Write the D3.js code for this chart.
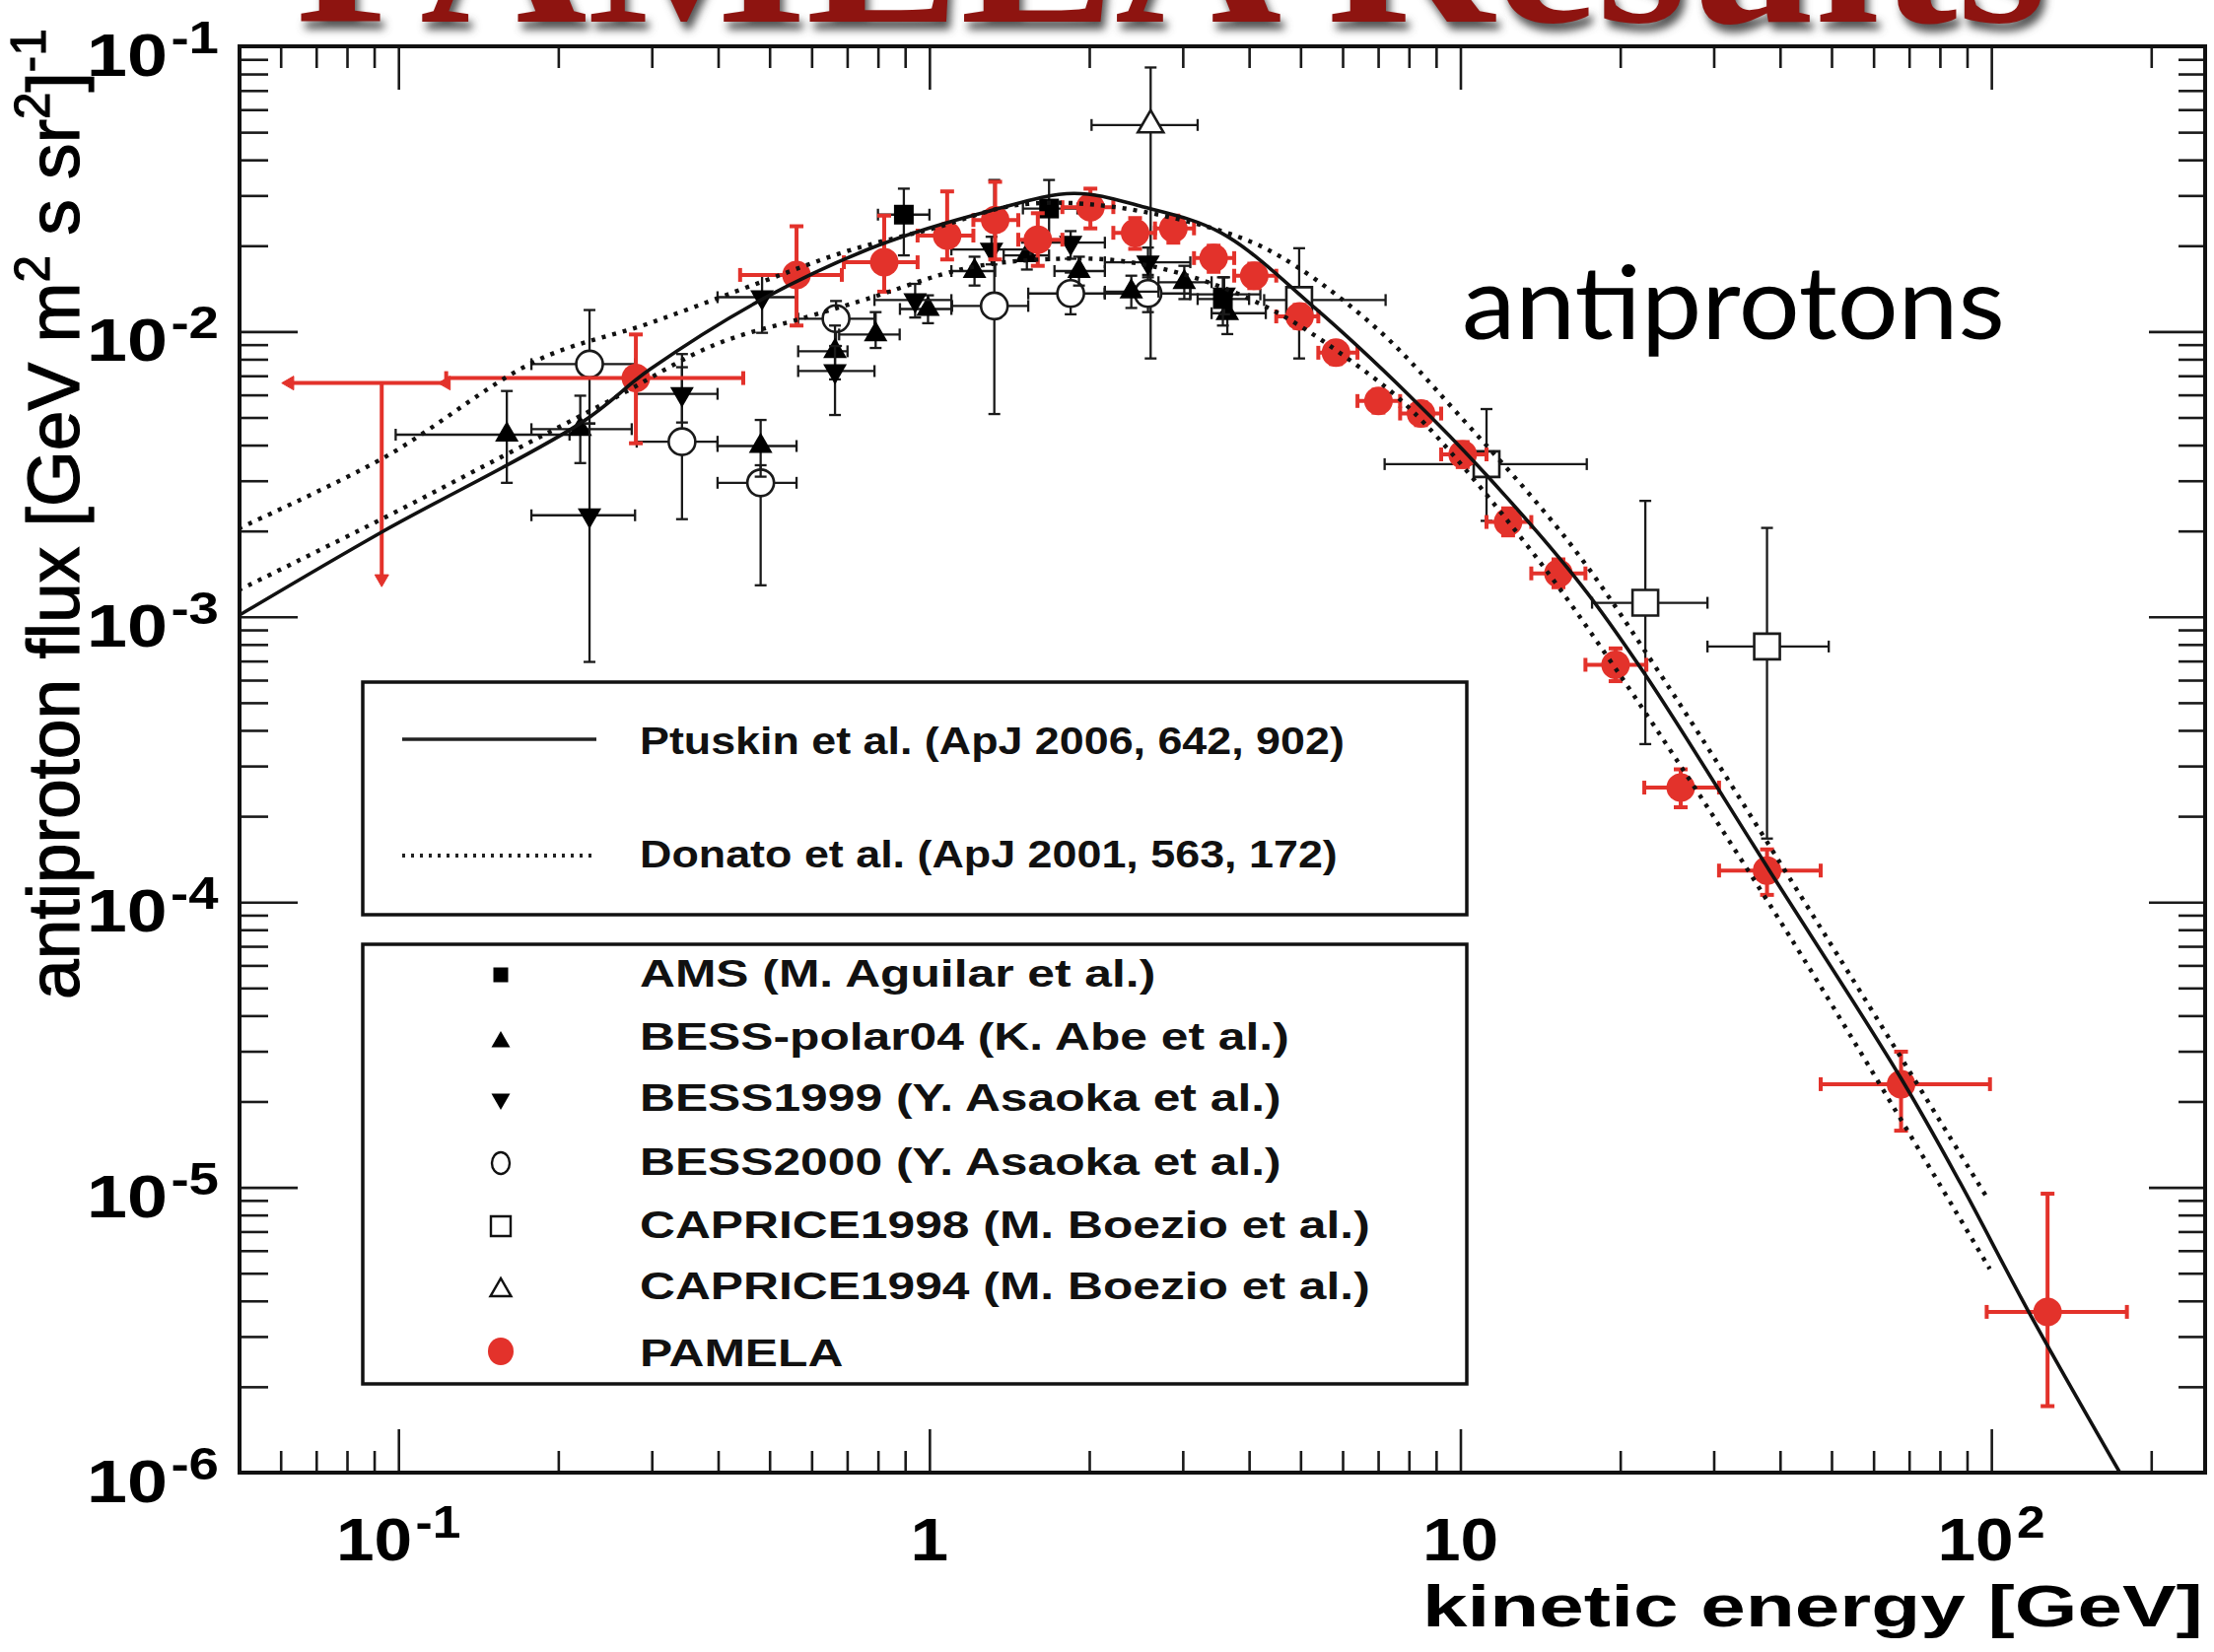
<!DOCTYPE html>
<html>
<head>
<meta charset="utf-8">
<script src="https://cdn.jsdelivr.net/npm/d3@7/dist/d3.min.js"></script>
<style>
body { margin: 0; background: #fff; }
</style>
</head>
<body>
<div id="svganchor"></div>
<script>
const width = 2246;
const height = 1676;
const plot = ({left: 243, right: 2237, top: 47, bottom: 1494});

// axis ranges and major ticks
const xDomain = [0.0502, 252.7];
const yDomain = [1e-6, 1e-1];
const xMajor = [0.1, 1, 10, 100];
const xMajorLabels = [["10", "-1"], ["1", ""], ["10", ""], ["10", "2"]];
const yMajor = [1e-1, 1e-2, 1e-3, 1e-4, 1e-5, 1e-6];
const yMajorLabels = [["10", "-1"], ["10", "-2"], ["10", "-3"], ["10", "-4"], ["10", "-5"], ["10", "-6"]];

// model curves: [kinetic energy GeV, flux]
const ptuskin = [
    [0.0500, 1.01e-3], [0.0929, 1.98e-3], [0.222, 4.82e-3], [0.297, 7.35e-3], [0.485, 1.30e-2],
    [0.798, 2.00e-2], [1.30, 2.65e-2], [1.87, 3.05e-2], [2.52, 2.74e-2], [3.54, 2.22e-2],
    [5.32, 1.21e-2], [8.02, 5.96e-3], [11.2, 3.14e-3], [16.9, 1.29e-3], [22.2, 6.34e-4],
    [38.2, 1.29e-4], [67.5, 2.42e-5], [87.3, 1.04e-5], [117.5, 3.67e-6], [174.6, 1.00e-6]
];
const donatoHigh = [
    [0.0500, 2.04e-3], [0.0940, 3.62e-3], [0.182, 7.91e-3], [0.297, 1.07e-2], [0.486, 1.50e-2],
    [0.703, 1.92e-2], [1.016, 2.30e-2], [1.47, 2.78e-2], [2.21, 2.74e-2], [3.79, 2.16e-2],
    [4.89, 1.70e-2], [7.06, 1.00e-2], [9.77, 5.28e-3], [16.0, 1.83e-3], [23.3, 6.68e-4],
    [48.8, 7.59e-5], [98.9, 8.99e-6]
];
const donatoLow = [
    [0.0500, 1.24e-3], [0.0929, 2.20e-3], [0.157, 3.65e-3], [0.249, 5.71e-3], [0.394, 8.99e-3],
    [0.593, 1.13e-2], [0.762, 1.30e-2], [1.16, 1.66e-2], [1.63, 1.79e-2], [2.29, 1.77e-2],
    [3.21, 1.53e-2], [4.50, 1.17e-2], [6.30, 7.76e-3], [8.11, 5.28e-3], [13.2, 1.83e-3],
    [19.5, 6.68e-4], [41.7, 7.59e-5], [99.3, 5.18e-6]
];

// data rows: [E, flux, flux low, flux high, E low, E high]
const ams = [
    [0.895, 2.57e-2, 1.85e-2, 3.17e-2, 0.80, 1.00],
    [1.68, 2.70e-2, 2.10e-2, 3.40e-2, 1.50, 1.90],
    [3.57, 1.30e-2, 1.05e-2, 1.55e-2, 3.20, 4.00]
];
const bessPolar04 = [
    [0.160, 4.35e-3, 2.95e-3, 6.19e-3, 0.0988, 0.210],
    [0.220, 4.55e-3, 3.46e-3, 5.96e-3, 0.178, 0.275],
    [0.481, 3.97e-3, 3.10e-3, 4.90e-3, 0.399, 0.562],
    [0.664, 8.53e-3, 6.80e-3, 1.05e-2, 0.566, 0.701],
    [0.792, 9.77e-3, 8.76e-3, 1.17e-2, 0.676, 0.879],
    [0.994, 1.20e-2, 1.07e-2, 1.34e-2, 0.880, 1.10],
    [1.216, 1.63e-2, 1.45e-2, 1.83e-2, 1.10, 1.33],
    [1.526, 1.85e-2, 1.65e-2, 2.05e-2, 1.38, 1.68],
    [1.913, 1.63e-2, 1.45e-2, 1.83e-2, 1.72, 2.14],
    [2.40, 1.38e-2, 1.21e-2, 1.57e-2, 2.14, 2.70],
    [3.02, 1.49e-2, 1.30e-2, 1.70e-2, 2.70, 3.40],
    [3.64, 1.16e-2, 9.80e-3, 1.34e-2, 3.40, 4.30]
];
const bess1999 = [
    [0.229, 2.27e-3, 6.95e-4, 4.76e-3, 0.178, 0.279],
    [0.342, 6.05e-3, 4.80e-3, 7.50e-3, 0.281, 0.399],
    [0.484, 1.32e-2, 9.90e-3, 1.57e-2, 0.399, 0.562],
    [0.664, 7.27e-3, 5.10e-3, 8.90e-3, 0.566, 0.788],
    [0.940, 1.29e-2, 1.12e-2, 1.47e-2, 0.788, 1.10],
    [1.309, 1.94e-2, 1.72e-2, 2.15e-2, 1.10, 1.55],
    [1.845, 2.05e-2, 1.80e-2, 2.25e-2, 1.55, 2.14],
    [2.58, 1.75e-2, 1.55e-2, 1.97e-2, 2.14, 3.10],
    [3.59, 1.35e-2, 1.15e-2, 1.55e-2, 3.10, 4.20]
];
const bess2000 = [
    [0.229, 7.69e-3, 4.76e-3, 1.19e-2, 0.178, 0.279],
    [0.342, 4.11e-3, 2.20e-3, 8.34e-3, 0.281, 0.399],
    [0.481, 2.95e-3, 1.29e-3, 3.40e-3, 0.399, 0.562],
    [0.667, 1.11e-2, 8.90e-3, 1.28e-2, 0.566, 0.788],
    [1.325, 1.23e-2, 5.14e-3, 3.40e-2, 1.103, 1.535],
    [1.845, 1.36e-2, 1.15e-2, 1.61e-2, 1.535, 2.14],
    [2.58, 1.36e-2, 1.17e-2, 1.58e-2, 2.14, 3.10]
];
const caprice1998 = [
    [4.97, 1.29e-2, 8.05e-3, 1.96e-2, 4.27, 7.23],
    [11.2, 3.43e-3, 2.17e-3, 5.35e-3, 7.20, 17.3],
    [22.3, 1.12e-3, 3.58e-4, 2.55e-3, 17.7, 29.2],
    [37.8, 7.87e-4, 1.67e-4, 2.05e-3, 29.2, 49.4]
];
const caprice1994 = [
    [2.61, 5.30e-2, 8.05e-3, 8.43e-2, 2.02, 3.20]
];
const pamela = [
    [0.28, 6.87e-3, 4.06e-3, 9.77e-3, 0.123, 0.446],
    [0.562, 1.58e-2, 1.05e-2, 2.34e-2, 0.44, 0.684],
    [0.822, 1.75e-2, 1.38e-2, 2.55e-2, 0.69, 0.95],
    [1.08, 2.17e-2, 1.79e-2, 3.10e-2, 0.95, 1.21],
    [1.33, 2.46e-2, 1.79e-2, 3.35e-2, 1.21, 1.47],
    [1.60, 2.10e-2, 1.70e-2, 2.60e-2, 1.47, 1.78],
    [2.01, 2.73e-2, 2.30e-2, 3.17e-2, 1.78, 2.22],
    [2.44, 2.22e-2, 1.95e-2, 2.50e-2, 2.22, 2.66],
    [2.88, 2.30e-2, 2.05e-2, 2.55e-2, 2.66, 3.15],
    [3.43, 1.81e-2, 1.62e-2, 2.00e-2, 3.15, 3.75],
    [4.09, 1.57e-2, 1.42e-2, 1.73e-2, 3.75, 4.50],
    [4.98, 1.13e-2, 1.03e-2, 1.24e-2, 4.50, 5.40],
    [5.83, 8.43e-3, 7.70e-3, 9.20e-3, 5.40, 6.40],
    [7.01, 5.71e-3, 5.20e-3, 6.25e-3, 6.40, 7.70],
    [8.43, 5.16e-3, 4.70e-3, 5.65e-3, 7.70, 9.20],
    [10.1, 3.71e-3, 3.35e-3, 4.10e-3, 9.20, 11.2],
    [12.3, 2.15e-3, 1.93e-3, 2.40e-3, 11.2, 13.6],
    [15.3, 1.42e-3, 1.27e-3, 1.59e-3, 13.6, 17.2],
    [19.6, 6.79e-4, 5.95e-4, 7.75e-4, 17.2, 22.4],
    [26.0, 2.52e-4, 2.15e-4, 2.92e-4, 22.2, 30.7],
    [37.8, 1.29e-4, 1.06e-4, 1.53e-4, 30.7, 47.7],
    [67.6, 2.30e-5, 1.58e-5, 2.99e-5, 47.7, 99.4],
    [127.6, 3.66e-6, 1.71e-6, 9.50e-6, 98.0, 180.0]
];
// upper limit: [E, flux, arrow end, E low, E high]
const pamelaLimit = [0.093, 6.6e-3, 1.36e-3, 0.0624, 0.123];

const lineLegend = ["Ptuskin et al. (ApJ 2006, 642, 902)", "Donato et al. (ApJ 2001, 563, 172)"];
const markerLegend = [
    ["square", "AMS (M. Aguilar et al.)"],
    ["up", "BESS-polar04 (K. Abe et al.)"],
    ["down", "BESS1999 (Y. Asaoka et al.)"],
    ["circle", "BESS2000 (Y. Asaoka et al.)"],
    ["osquare", "CAPRICE1998 (M. Boezio et al.)"],
    ["oup", "CAPRICE1994 (M. Boezio et al.)"],
    ["red", "PAMELA"]
];

const red = "#e3322b";
const font = "'Liberation Sans', Arial, Helvetica, sans-serif";

let svg = d3.select("#svganchor")
    .append("svg")
    .attr("width", width)
    .attr("height", height)
    .style("font-family", font)
    .style("background", "#fff");

let xScale = d3.scaleLog().domain(xDomain).range([plot.left, plot.right]);
let yScale = d3.scaleLog().domain(yDomain).range([plot.bottom, plot.top]);

const defs = svg.append("defs");
defs.append("clipPath").attr("id", "plotclip")
    .append("rect")
    .attr("x", plot.left).attr("y", plot.top)
    .attr("width", plot.right - plot.left).attr("height", plot.bottom - plot.top);
const shadow = defs.append("filter").attr("id", "shadow").attr("x", "-5%").attr("y", "-50%").attr("width", "110%").attr("height", "200%");
shadow.append("feGaussianBlur").attr("stdDeviation", 4);

// stretch a group horizontally to a target width
function fitX(inner, target, anchor) {
    const b = inner.node().getBBox();
    const k = target ? target / b.width : 1;
    let dx = -b.x;
    if (anchor === "end") dx = -(b.x + b.width);
    if (anchor === "middle") dx = -(b.x + b.width / 2);
    inner.attr("transform", `scale(${k},1) translate(${dx},0)`);
    return k;
}

// ---- title (cut off at top of slide)
let titleG = svg.append("g").attr("transform", "translate(300,22)");
let titleShadow = titleG.append("g").attr("transform", "translate(4,8)");
titleShadow.append("text")
    .attr("font-family", "'Liberation Serif', 'DejaVu Serif', serif")
    .attr("font-weight", "bold").attr("font-size", 220)
    .attr("fill", "#555").attr("filter", "url(#shadow)")
    .text("PAMELA Results");
let titleInner = titleG.append("g");
titleInner.append("text")
    .attr("font-family", "'Liberation Serif', 'DejaVu Serif', serif")
    .attr("font-weight", "bold").attr("font-size", 220)
    .attr("fill", "#8e1410")
    .text("PAMELA Results");
let tk = fitX(titleInner, 1777, "start");
titleShadow.select("text").attr("transform", `scale(${tk},1)`);

// ---- ticks
const xMinor = xScale.ticks().filter(v => !xMajor.some(m => Math.abs(m - v) / m < 1e-6));
const yMinor = yScale.ticks().filter(v => !yMajor.some(m => Math.abs(m - v) / m < 1e-6));

function tickAxis(axis, values, size, transform) {
    const g = svg.append("g")
        .attr("transform", transform)
        .call(axis.tickValues(values).tickSize(size).tickFormat(""));
    g.select(".domain").remove();
    g.selectAll("line").attr("stroke", "#1a1a1a").attr("stroke-width", 2.6);
}

tickAxis(d3.axisBottom(xScale), xMinor, -22, `translate(0,${plot.bottom})`);
tickAxis(d3.axisBottom(xScale), xMajor, -44, `translate(0,${plot.bottom})`);
tickAxis(d3.axisTop(xScale), xMinor, -22, `translate(0,${plot.top})`);
tickAxis(d3.axisTop(xScale), xMajor, -44, `translate(0,${plot.top})`);
tickAxis(d3.axisLeft(yScale), yMinor, -29, `translate(${plot.left},0)`);
tickAxis(d3.axisLeft(yScale), yMajor, -59, `translate(${plot.left},0)`);
tickAxis(d3.axisRight(yScale), yMinor, -27, `translate(${plot.right},0)`);
tickAxis(d3.axisRight(yScale), yMajor, -57, `translate(${plot.right},0)`);

// ---- tick labels "10^n"
function powerLabel(base, exp, x0, y0, target, anchor, k) {
    const outer = svg.append("g").attr("transform", `translate(${x0},${y0})`);
    const inner = outer.append("g");
    const t = inner.append("text")
        .attr("font-size", 62).attr("font-weight", "bold")
        .text(base);
    if (exp) {
        const w = t.node().getComputedTextLength();
        inner.append("text")
            .attr("x", w + 3).attr("y", -23)
            .attr("font-size", 46).attr("font-weight", "bold")
            .text(exp);
    }
    if (target) {
        fitX(inner, target, anchor);
    } else {
        const b = inner.node().getBBox();
        let dx = anchor === "middle" ? -(b.x + b.width / 2) : -(b.x + b.width);
        inner.attr("transform", `scale(${k},1) translate(${dx},0)`);
    }
}

yMajor.forEach((v, i) => powerLabel(yMajorLabels[i][0], yMajorLabels[i][1], 222, yScale(v) + 30, 134, "end"));
xMajor.forEach((v, i) => powerLabel(xMajorLabels[i][0], xMajorLabels[i][1], xScale(v), 1583, null, "middle", 1.12));

// ---- axis titles
let xTitle = svg.append("g").attr("transform", "translate(2235,1650)");
let xTitleInner = xTitle.append("g");
xTitleInner.append("text").attr("font-size", 60).attr("font-weight", "bold").text("kinetic energy [GeV]");
fitX(xTitleInner, 792, "end");

let yTitle = svg.append("g").attr("transform", "translate(80,1014) rotate(-90)");
let yTitleInner = yTitle.append("g");
let yt = yTitleInner.append("text").attr("font-size", 74)
    .attr("stroke", "#000").attr("stroke-width", 1.2);
yt.append("tspan").text("antiproton flux [GeV m");
yt.append("tspan").attr("font-size", 50).attr("dy", -30).text("2");
yt.append("tspan").attr("dy", 30).text(" s sr");
yt.append("tspan").attr("font-size", 50).attr("dy", -30).text("2");
yt.append("tspan").attr("dy", 30).text("]");
yt.append("tspan").attr("font-size", 50).attr("dy", -34).text("-1");
fitX(yTitleInner, 985, "start");

// ---- legend boxes
let legend1 = svg.append("g");
legend1.append("rect")
    .attr("x", 368).attr("y", 692).attr("width", 1120).attr("height", 236)
    .attr("fill", "#fff").attr("stroke", "#111").attr("stroke-width", 3.5);
let legend2 = svg.append("g");
legend2.append("rect")
    .attr("x", 368).attr("y", 958).attr("width", 1120).attr("height", 446)
    .attr("fill", "#fff").attr("stroke", "#111").attr("stroke-width", 3.5);

// ---- markers
const shapes = {
    square: s => `M${-s / 2},${-s / 2}h${s}v${s}h${-s}Z`,
    up: s => { const h = s * 0.866; return `M0,${-h * 2 / 3}L${s / 2},${h / 3}L${-s / 2},${h / 3}Z`; },
    down: s => { const h = s * 0.866; return `M0,${h * 2 / 3}L${s / 2},${-h / 3}L${-s / 2},${-h / 3}Z`; },
    circle: s => d3.symbol(d3.symbolCircle, Math.PI * s * s / 4)()
};

let plotArea = svg.append("g").attr("clip-path", "url(#plotclip)");

function drawSeries(rows, color, barWidth, cap, shape, size, fill, stroke) {
    const g = plotArea.append("g");
    g.selectAll(".ev").data(rows).join("line")
        .attr("x1", d => xScale(d[0])).attr("x2", d => xScale(d[0]))
        .attr("y1", d => yScale(d[2])).attr("y2", d => yScale(d[3]))
        .attr("stroke", color).attr("stroke-width", barWidth);
    g.selectAll(".eh").data(rows).join("line")
        .attr("x1", d => xScale(d[4])).attr("x2", d => xScale(d[5]))
        .attr("y1", d => yScale(d[1])).attr("y2", d => yScale(d[1]))
        .attr("stroke", color).attr("stroke-width", barWidth);
    [2, 3].forEach(j => {
        g.selectAll(".cv" + j).data(rows).join("line")
            .attr("x1", d => xScale(d[0]) - cap).attr("x2", d => xScale(d[0]) + cap)
            .attr("y1", d => yScale(d[j])).attr("y2", d => yScale(d[j]))
            .attr("stroke", color).attr("stroke-width", barWidth);
    });
    [4, 5].forEach(j => {
        g.selectAll(".ch" + j).data(rows).join("line")
            .attr("x1", d => xScale(d[j])).attr("x2", d => xScale(d[j]))
            .attr("y1", d => yScale(d[1]) - cap).attr("y2", d => yScale(d[1]) + cap)
            .attr("stroke", color).attr("stroke-width", barWidth);
    });
    g.selectAll(".mk").data(rows).join("path")
        .attr("transform", d => `translate(${xScale(d[0])},${yScale(d[1])})`)
        .attr("d", shapes[shape](size))
        .attr("fill", fill)
        .attr("stroke", stroke)
        .attr("stroke-width", stroke === "none" ? 0 : 2.6);
}

drawSeries(caprice1994, "#1a1a1a", 2.3, 6, "up", 26, "#fff", "#1a1a1a");
drawSeries(caprice1998, "#1a1a1a", 2.3, 6, "square", 26, "#fff", "#1a1a1a");
drawSeries(bess2000, "#1a1a1a", 2.3, 6, "circle", 27, "#fff", "#1a1a1a");
drawSeries(bessPolar04, "#1a1a1a", 2.3, 6, "up", 24, "#000", "none");
drawSeries(bess1999, "#1a1a1a", 2.3, 6, "down", 24, "#000", "none");
drawSeries(ams, "#1a1a1a", 2.3, 6, "square", 20, "#000", "none");

// PAMELA upper limit with arrows
let lim = plotArea.append("g").attr("stroke", red).attr("stroke-width", 4).attr("fill", red);
lim.append("line")
    .attr("x1", xScale(pamelaLimit[3])).attr("x2", xScale(pamelaLimit[4]))
    .attr("y1", yScale(pamelaLimit[1])).attr("y2", yScale(pamelaLimit[1]));
lim.append("line")
    .attr("x1", xScale(pamelaLimit[0])).attr("x2", xScale(pamelaLimit[0]))
    .attr("y1", yScale(pamelaLimit[1])).attr("y2", yScale(pamelaLimit[2]));
lim.append("path")
    .attr("transform", `translate(${xScale(pamelaLimit[3])},${yScale(pamelaLimit[1])}) rotate(-90)`)
    .attr("d", shapes.up(14)).attr("stroke-width", 1);
lim.append("path")
    .attr("transform", `translate(${xScale(pamelaLimit[4])},${yScale(pamelaLimit[1])}) rotate(-90)`)
    .attr("d", shapes.up(14)).attr("stroke-width", 1);
lim.append("path")
    .attr("transform", `translate(${xScale(pamelaLimit[0])},${yScale(pamelaLimit[2])})`)
    .attr("d", shapes.down(14)).attr("stroke-width", 1);

drawSeries(pamela, red, 4, 7, "circle", 29, red, "none");

// ---- model curves on top of points
const line = d3.line()
    .x(d => xScale(d[0]))
    .y(d => yScale(d[1]))
    .curve(d3.curveCatmullRom.alpha(0.5));

plotArea.append("path").datum(donatoHigh)
    .attr("d", line).attr("fill", "none")
    .attr("stroke", "#111").attr("stroke-width", 4.4).attr("stroke-dasharray", "4,7");
plotArea.append("path").datum(donatoLow)
    .attr("d", line).attr("fill", "none")
    .attr("stroke", "#111").attr("stroke-width", 4.4).attr("stroke-dasharray", "4,7");
plotArea.append("path").datum(ptuskin)
    .attr("d", line).attr("fill", "none")
    .attr("stroke", "#111").attr("stroke-width", 3.6);

// ---- frame
svg.append("rect")
    .attr("x", plot.left).attr("y", plot.top)
    .attr("width", plot.right - plot.left).attr("height", plot.bottom - plot.top)
    .attr("fill", "none").attr("stroke", "#111").attr("stroke-width", 4);

// ---- "antiprotons"
let ap = svg.append("g").attr("transform", "translate(1483,344)");
let apInner = ap.append("g");
apInner.append("text")
    .attr("font-family", "Lato, 'Open Sans', sans-serif")
    .attr("font-size", 102)
    .text("antiprotons");
fitX(apInner, 551, "start");

// ---- legend contents
const legendScale = (() => {
    const t = svg.append("text").attr("font-size", 39).attr("font-weight", "bold").text(markerLegend[4][1]);
    const w = t.node().getComputedTextLength();
    t.remove();
    return 741 / w;
})();

function legendText(parent, txt, x0, y0, target) {
    const g = parent.append("g").attr("transform", `translate(${x0},${y0})`);
    const inner = g.append("g");
    inner.append("text")
        .attr("font-size", 39).attr("font-weight", "bold").attr("fill", "#111")
        .text(txt);
    if (target) {
        fitX(inner, target, "start");
    } else {
        inner.attr("transform", `scale(${legendScale},1)`);
    }
}

legend1.append("line").attr("x1", 408).attr("x2", 605).attr("y1", 750).attr("y2", 750)
    .attr("stroke", "#222").attr("stroke-width", 3.6);
legend1.append("line").attr("x1", 408).attr("x2", 605).attr("y1", 868).attr("y2", 868)
    .attr("stroke", "#222").attr("stroke-width", 4).attr("stroke-dasharray", "3,6");
legendText(legend1, lineLegend[0], 649, 765, 715);
legendText(legend1, lineLegend[1], 649, 880, 708);

const legendMarkY = [989, 1057, 1115, 1180, 1244, 1309, 1371];
const legendTextY = [1001, 1065, 1127, 1192, 1256, 1318, 1386];
markerLegend.forEach((m, i) => {
    const g = legend2.append("g").attr("transform", `translate(508,${legendMarkY[i]})`);
    const kind = m[0];
    if (kind === "square") g.append("path").attr("d", shapes.square(15)).attr("fill", "#000");
    if (kind === "up") g.append("path").attr("d", shapes.up(19)).attr("fill", "#000");
    if (kind === "down") g.append("path").attr("d", shapes.down(19)).attr("fill", "#000");
    if (kind === "circle") g.append("ellipse").attr("rx", 9).attr("ry", 11).attr("fill", "#fff").attr("stroke", "#111").attr("stroke-width", 2.4);
    if (kind === "osquare") g.append("path").attr("d", shapes.square(20)).attr("fill", "#fff").attr("stroke", "#111").attr("stroke-width", 2.4);
    if (kind === "oup") g.append("path").attr("d", shapes.up(21)).attr("fill", "#fff").attr("stroke", "#111").attr("stroke-width", 2.4);
    if (kind === "red") g.append("ellipse").attr("rx", 13).attr("ry", 14).attr("fill", red);
    legendText(legend2, m[1], 649, legendTextY[i]);
});
</script>
</body>
</html>
